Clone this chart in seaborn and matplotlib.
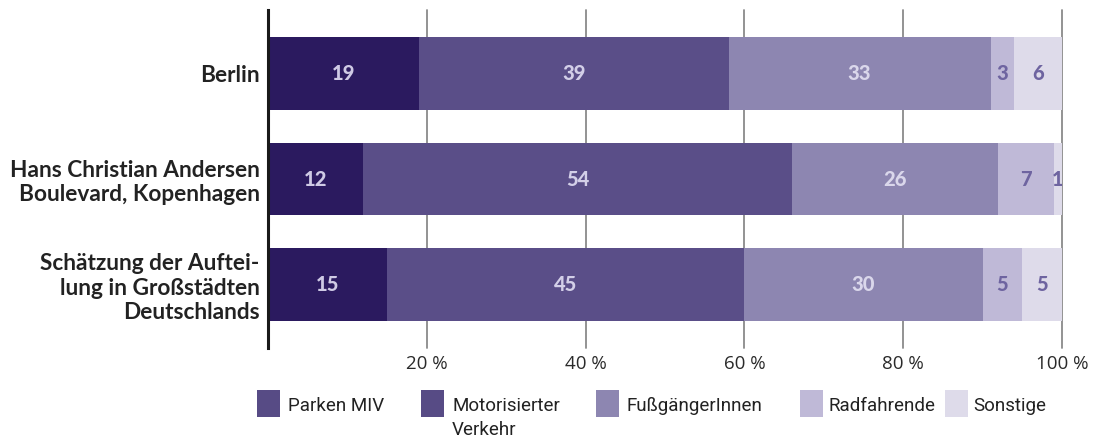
import numpy as np
import pandas as pd
import matplotlib
matplotlib.use("Agg")
import matplotlib.pyplot as plt
from matplotlib.patches import Rectangle
import seaborn as sns

# Aufteilung des Straßenraums nach Nutzung, in Prozent
orte = [
    "Berlin",
    "Hans Christian Andersen\nBoulevard, Kopenhagen",
    "Schätzung der Auftei-\nlung in Großstädten\nDeutschlands",
]
parken_miv = [19, 12, 15]
motorisierter_verkehr = [39, 54, 45]
fussgaenger = [33, 26, 30]
radfahrende = [3, 7, 5]
sonstige = [6, 1, 5]

kategorien = ["Parken MIV", "Motorisierter\nVerkehr", "FußgängerInnen", "Radfahrende", "Sonstige"]
werte = [parken_miv, motorisierter_verkehr, fussgaenger, radfahrende, sonstige]
farben = ["#2B1A5F", "#5A4E88", "#8D86B1", "#BFB9D7", "#DEDBEA"]
legenden_farben = ["#574B85", "#574B85", "#8D86B1", "#BFB9D7", "#DEDBEA"]
label_farben = ["#CFCAE5", "#D3CFE8", "#DAD7EB", "#6E64A0", "#6E64A0"]
xticks = [20, 40, 60, 80, 100]
xtick_labels = ["20 %", "40 %", "60 %", "80 %", "100 %"]

sns.set_theme(style="white")
plt.rcParams["font.family"] = ["Lato", "DejaVu Sans"]

df = pd.DataFrame({"ort": orte})
for k, w in zip(kategorien, werte):
    df[k] = w
kum = df[kategorien].cumsum(axis=1)

W, H = 1101, 444
fig = plt.figure(figsize=(W / 100, H / 100), dpi=100)
ax = fig.add_axes([268 / W, 1 - 348 / H, (1062 - 268) / W, 338 / H])

# Stapel von hinten nach vorn zeichnen: jede Schicht ist die kumulierte Summe
for i in range(len(kategorien) - 1, -1, -1):
    sns.barplot(x=kum[kategorien[i]], y=df["ort"], orient="h", color=farben[i],
                saturation=1, width=0.69, ax=ax, linewidth=0, zorder=2)

# Werte in die Segmente schreiben
for i, k in enumerate(kategorien):
    for j in range(len(orte)):
        v = df[k].iloc[j]
        mitte = kum[k].iloc[j] - v / 2
        ax.text(mitte, j, f"{v}", ha="center", va="center", color=label_farben[i],
                fontsize=14.5, fontweight="black", zorder=3, clip_on=True)

ax.set_xlim(0, 100)
ax.set_ylim(2.6, -0.6)
ax.set_xlabel("")
ax.set_ylabel("")
ax.set_xticks(xticks)
ax.set_xticklabels(xtick_labels, fontsize=13.5, color="#2a2a2a", family=["Open Sans", "DejaVu Sans"])
ax.tick_params(axis="x", length=0, pad=5)
ax.tick_params(axis="y", length=0, pad=6)
for lbl in ax.get_yticklabels():
    lbl.set_fontsize(16.3)
    lbl.set_fontweight("bold")
    lbl.set_color("#222222")
    lbl.set_multialignment("right")
    lbl.set_linespacing(1.2)

ax.set_axisbelow(True)
for x in xticks:
    ax.axvline(x, color="#8a8a8a", linewidth=1.3, zorder=0, clip_on=False)

for s in ["top", "right", "bottom"]:
    ax.spines[s].set_visible(False)
ax.spines["left"].set_color("#1a1a1a")
ax.spines["left"].set_linewidth(2.2)
ax.spines["left"].set_zorder(4)

# Legende: Farbfeld und Beschriftung je Kategorie
feld_x = [257, 421, 596, 800, 945]
text_x = [288, 452, 627, 828, 973]
for fx, tx, farbe, name in zip(feld_x, text_x, legenden_farben, kategorien):
    fig.patches.append(Rectangle((fx / W, 1 - 417 / H), 23 / W, 27 / H, transform=fig.transFigure,
                                 facecolor=farbe, edgecolor="none"))
    fig.text(tx / W, 1 - 397 / H, name, ha="left", va="top", fontsize=13.5, color="#222222",
             family=["Roboto", "DejaVu Sans"], linespacing=1.45)

fig.savefig("out.png", dpi=100)
